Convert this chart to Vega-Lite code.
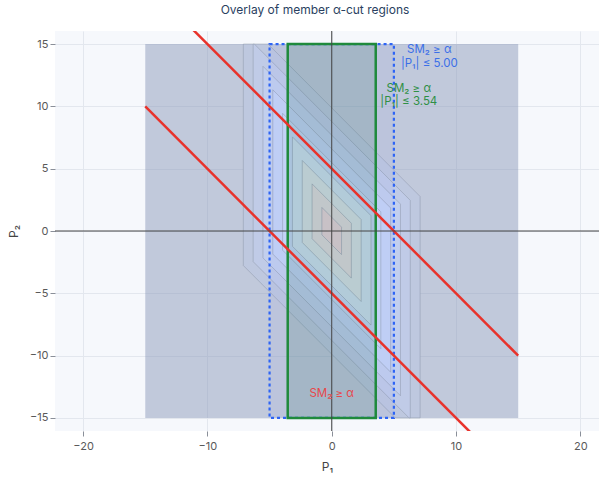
{
  "$schema": "https://vega.github.io/schema/vega-lite/v6.json",
  "width": 544,
  "height": 400,
  "autosize": "none",
  "padding": {"left": 55, "top": 31, "right": 0, "bottom": 47},
  "background": "white",
  "title": {"text": "Overlay of member α-cut regions", "fontSize": 12, "fontWeight": "normal", "color": "#2a3f5f", "font": "Inter", "anchor": "middle", "dx": -12, "offset": 14},
  "config": {
    "view": {"fill": "#f6f8fc", "stroke": null},
    "font": "Inter",
    "axis": {"gridColor": "#e3e7ee", "gridWidth": 1, "domain": false, "tickColor": "#8a8f99", "tickSize": 5, "labelColor": "#595959", "labelFontSize": 11, "labelFont": "Inter", "titleFont": "Inter", "titleFontSize": 12, "titleColor": "#444", "titleFontWeight": "normal"}
  },
  "datasets": {
    "bg": [{"x1": -15, "x2": 15, "y1": -15, "y2": 15}],
    "contours": [
      {"lvl": 9, "x": -7.11, "lo": -2.77, "hi": 15},
      {"lvl": 9, "x": -5.12, "lo": -4.76, "hi": 15},
      {"lvl": 9, "x": 5.12, "lo": -15, "hi": 4.76},
      {"lvl": 9, "x": 7.11, "lo": -15, "hi": 2.77},
      {"lvl": 8, "x": -6.32, "lo": -2.46, "hi": 15},
      {"lvl": 8, "x": -6.22, "lo": -2.56, "hi": 15},
      {"lvl": 8, "x": 6.22, "lo": -15, "hi": 2.56},
      {"lvl": 8, "x": 6.32, "lo": -15, "hi": 2.46},
      {"lvl": 7, "x": -5.53, "lo": -2.16, "hi": 13.22},
      {"lvl": 7, "x": 5.53, "lo": -13.22, "hi": 2.16},
      {"lvl": 6, "x": -4.74, "lo": -1.85, "hi": 11.33},
      {"lvl": 6, "x": 4.74, "lo": -11.33, "hi": 1.85},
      {"lvl": 5, "x": -3.95, "lo": -1.54, "hi": 9.44},
      {"lvl": 5, "x": 3.95, "lo": -9.44, "hi": 1.54},
      {"lvl": 4, "x": -3.16, "lo": -1.23, "hi": 7.55},
      {"lvl": 4, "x": 3.16, "lo": -7.55, "hi": 1.23},
      {"lvl": 3, "x": -2.37, "lo": -0.92, "hi": 5.66},
      {"lvl": 3, "x": 2.37, "lo": -5.66, "hi": 0.92},
      {"lvl": 2, "x": -1.58, "lo": -0.62, "hi": 3.78},
      {"lvl": 2, "x": 1.58, "lo": -3.78, "hi": 0.62},
      {"lvl": 1, "x": -0.79, "lo": -0.31, "hi": 1.89},
      {"lvl": 1, "x": 0.79, "lo": -1.89, "hi": 0.31}
    ],
    "blue": [{"x1": -5, "x2": 5, "y1": -15, "y2": 15}],
    "green": [{"x1": -3.54, "x2": 3.54, "y1": -15, "y2": 15}],
    "red": [
      {"line": "A", "x": -15, "y": 10},
      {"line": "A", "x": 15, "y": -20},
      {"line": "B", "x": -15, "y": 20},
      {"line": "B", "x": 15, "y": -10}
    ],
    "zero": [{"z": 0}],
    "labels": [
      {"x": 7.85, "y": 14.5, "t": "SM₂ ≥ α", "g": "b"},
      {"x": 7.85, "y": 13.4, "t": "|P₁| ≤ 5.00", "g": "b"},
      {"x": 6.2, "y": 11.4, "t": "SM₂ ≥ α", "g": "g"},
      {"x": 6.2, "y": 10.35, "t": "|P₁| ≤ 3.54", "g": "g"},
      {"x": 0, "y": -13.05, "t": "SM₂ ≥ α", "g": "r"}
    ]
  },
  "layer": [
    {
      "data": {"name": "bg"},
      "mark": {"type": "rect", "fill": "#8293b5", "fillOpacity": 0.46},
      "encoding": {
        "x": {"field": "x1", "type": "quantitative", "scale": {"domain": [-22.26, 21.5], "nice": false, "zero": false},
              "axis": {"values": [-20, -10, 0, 10, 20], "title": "P₁", "labelPadding": 4, "titlePadding": 10}},
        "x2": {"field": "x2"},
        "y": {"field": "y1", "type": "quantitative", "scale": {"domain": [-16.05, 16.05], "nice": false, "zero": false},
              "axis": {"values": [-15, -10, -5, 0, 5, 10, 15], "title": "P₂", "labelPadding": 2, "titlePadding": 9}},
        "y2": {"field": "y2"}
      }
    },
    {
      "data": {"name": "contours"},
      "mark": {"type": "area", "stroke": "#8e97aa", "strokeWidth": 1, "strokeOpacity": 0.5, "clip": true},
      "encoding": {
        "x": {"field": "x", "type": "quantitative"},
        "y": {"field": "lo", "type": "quantitative", "stack": null},
        "y2": {"field": "hi"},
        "fill": {"field": "lvl", "type": "ordinal", "legend": null,
                 "scale": {"domain": [1, 2, 3, 4, 5, 6, 7, 8, 9], "range": ["#efd5db", "#e6dde0", "#dde3e8", "#d3e2f2", "#cad9f7", "#c5d3f5", "#c2cfee", "#c0cbe7", "#bec8df"]}}
      }
    },
    {
      "data": {"name": "blue"},
      "mark": {"type": "rect", "fill": "#5b7cff", "fillOpacity": 0.05, "stroke": "#2d64f5", "strokeWidth": 2.2, "strokeDash": [3, 3]},
      "encoding": {
        "x": {"field": "x1", "type": "quantitative"}, "x2": {"field": "x2"},
        "y": {"field": "y1", "type": "quantitative"}, "y2": {"field": "y2"}
      }
    },
    {
      "data": {"name": "green"},
      "mark": {"type": "rect", "fill": "#1c6a4a", "fillOpacity": 0.15, "stroke": "#1f8a3c", "strokeWidth": 2.5},
      "encoding": {
        "x": {"field": "x1", "type": "quantitative"}, "x2": {"field": "x2"},
        "y": {"field": "y1", "type": "quantitative"}, "y2": {"field": "y2"}
      }
    },
    {
      "data": {"name": "red"},
      "mark": {"type": "line", "color": "#e8322b", "strokeWidth": 2.5, "clip": true},
      "encoding": {
        "x": {"field": "x", "type": "quantitative"},
        "y": {"field": "y", "type": "quantitative"},
        "detail": {"field": "line", "type": "nominal"}
      }
    },
    {
      "data": {"name": "zero"},
      "mark": {"type": "rule", "color": "#444", "strokeWidth": 1},
      "encoding": {"x": {"field": "z", "type": "quantitative"}}
    },
    {
      "data": {"name": "zero"},
      "mark": {"type": "rule", "color": "#444", "strokeWidth": 1},
      "encoding": {"y": {"field": "z", "type": "quantitative"}}
    },
    {
      "data": {"name": "labels"},
      "mark": {"type": "text", "fontSize": 11.5, "align": "center", "baseline": "middle", "font": "Inter"},
      "encoding": {
        "x": {"field": "x", "type": "quantitative"},
        "y": {"field": "y", "type": "quantitative"},
        "text": {"field": "t"},
        "color": {"field": "g", "type": "nominal", "legend": null,
                  "scale": {"domain": ["b", "g", "r"], "range": ["#3b6fe8", "#2f8f46", "#e8464a"]}}
      }
    }
  ]
}
